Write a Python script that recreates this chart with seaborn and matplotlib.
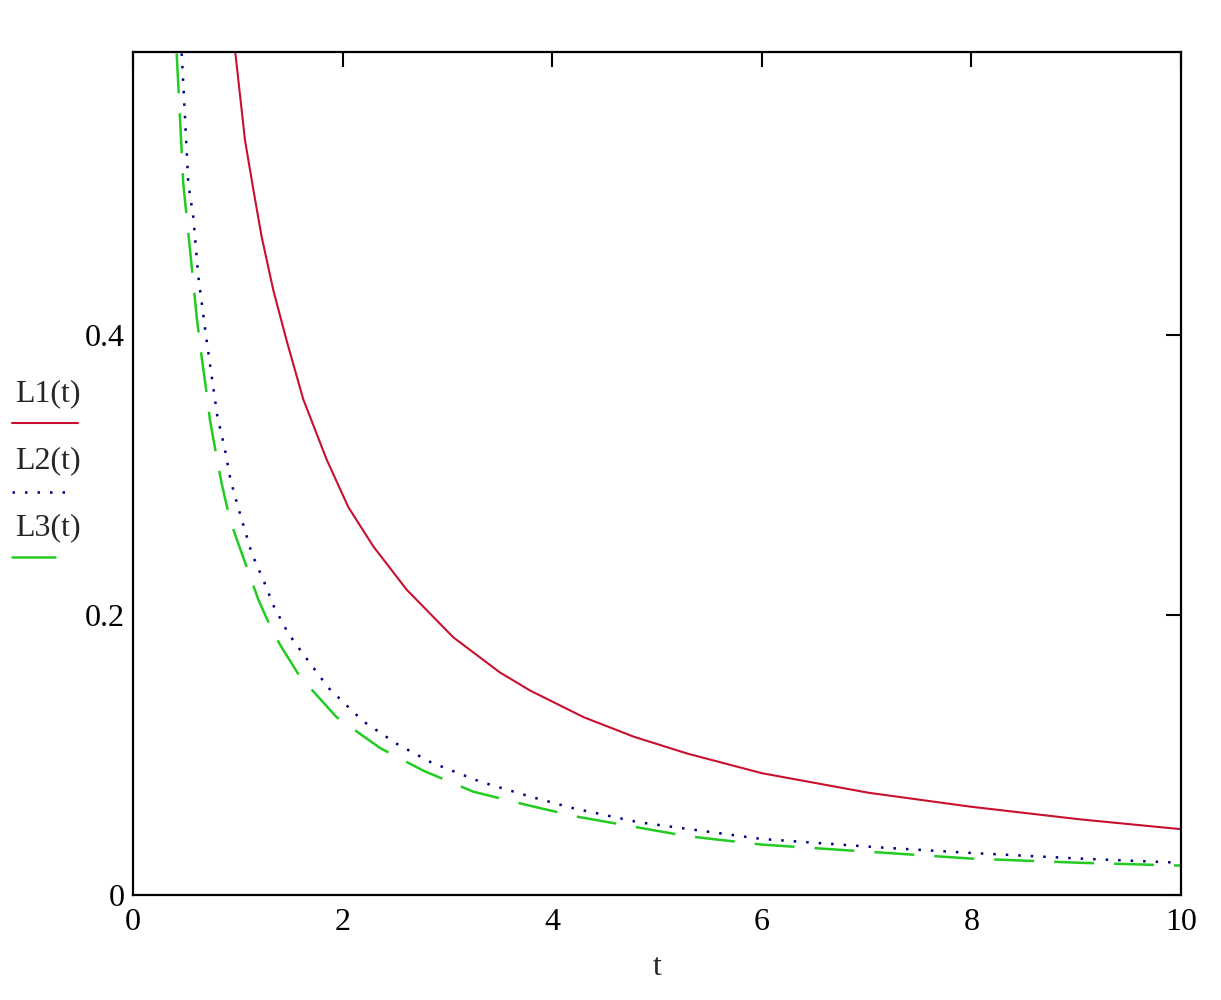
import matplotlib
matplotlib.use("Agg")
import matplotlib.pyplot as plt
from matplotlib.lines import Line2D
import pandas as pd
import seaborn as sns

# values
t1 = [0.973, 1.069, 1.148, 1.228, 1.339, 1.466, 1.625, 1.848, 2.055, 2.293, 2.612,
      3.057, 3.5, 3.79, 4.3, 4.78, 5.29, 6.0, 7.02, 8.0, 9.04, 10.0]
L1 = [0.604, 0.539, 0.504, 0.470, 0.432, 0.396, 0.354, 0.311, 0.277, 0.249, 0.218,
      0.184, 0.159, 0.146, 0.127, 0.113, 0.101, 0.087, 0.073, 0.063, 0.054, 0.047]

t2 = [0.465, 0.496, 0.528, 0.576, 0.623, 0.703, 0.805, 0.878, 0.932, 1.011, 1.133,
      1.244, 1.345, 1.473, 1.546, 1.864, 2.198, 2.516, 2.85, 3.311, 3.804, 4.2,
      4.82, 6.0, 7.12, 8.0, 9.04, 10.0]
L2 = [0.601, 0.556, 0.508, 0.484, 0.442, 0.396, 0.342, 0.318, 0.296, 0.275, 0.244,
      0.225, 0.206, 0.188, 0.180, 0.148, 0.124, 0.108, 0.0945, 0.081, 0.070, 0.062,
      0.052, 0.040, 0.034, 0.030, 0.026, 0.023]

t3 = [0.417, 0.448, 0.48, 0.544, 0.608, 0.654, 0.702, 0.735, 0.798, 0.846, 0.925,
      1.005, 1.110, 1.196, 1.339, 1.434, 1.593, 1.943, 2.357, 2.77, 3.247, 3.756,
      4.233, 5.29, 6.0, 7.0, 8.0, 9.04, 10.0]
L3 = [0.601, 0.556, 0.508, 0.461, 0.413, 0.385, 0.359, 0.339, 0.313, 0.294, 0.268,
      0.251, 0.229, 0.211, 0.187, 0.175, 0.156, 0.127, 0.105, 0.0888, 0.0738, 0.0643,
      0.056, 0.042, 0.036, 0.031, 0.026, 0.023, 0.021]

series_names = ["L1(t)", "L2(t)", "L3(t)"]
x_ticks = [0, 2, 4, 6, 8, 10]
y_ticks = [0, 0.2, 0.4]
y_tick_labels = ["0", "0.2", "0.4"]

RED = "#c8102e"
BLUE = "#000080"
GREEN = "#22cc22"


def main():
    sns.set_style("white")
    plt.rcParams["font.family"] = ["Liberation Serif", "DejaVu Serif"]

    df = pd.concat([
        pd.DataFrame({"t": t1, "value": L1, "series": series_names[0]}),
        pd.DataFrame({"t": t2, "value": L2, "series": series_names[1]}),
        pd.DataFrame({"t": t3, "value": L3, "series": series_names[2]}),
    ])

    fig = plt.figure(figsize=(12.21, 10), dpi=100)
    ax = fig.add_axes([0.1089, 0.105, 0.8583, 0.843])

    styles = {
        "L1(t)": dict(color=RED, lw=1.5, ls="-"),
        "L2(t)": dict(color=BLUE, lw=1.8, ls=(0, (1, 4))),
        "L3(t)": dict(color=GREEN, lw=1.8, ls=(0, (16, 8))),
    }
    for name in series_names:
        sub = df[df["series"] == name]
        sns.lineplot(data=sub, x="t", y="value", ax=ax, sort=False,
                     estimator=None, legend=False, **styles[name])

    ax.set_xlim(0, 10)
    ax.set_ylim(0, 0.602)
    ax.set_xticks(x_ticks)
    ax.set_xticklabels([str(v) for v in x_ticks])
    ax.set_yticks(y_ticks)
    ax.set_yticklabels(y_tick_labels)
    ax.tick_params(direction="in", length=11, width=1.5, labelsize=23,
                   top=True, right=True, pad=6, colors="black")
    ax.tick_params(axis="x", pad=9)
    ax.set_xlabel("t", fontsize=23, labelpad=12)
    ax.set_ylabel("")
    for sp in ax.spines.values():
        sp.set_visible(True)
        sp.set_color("black")
        sp.set_linewidth(1.6)

    # Mathcad style legend on the left
    legend_rows = [(0.606, 0.577, 0.054, "-"),
                   (0.539, 0.508, 0.043, styles["L2(t)"]["ls"]),
                   (0.472, 0.443, 0.035, "-")]
    for name, (ty, ly, lw_len, ls) in zip(series_names, legend_rows):
        st = styles[name]
        fig.text(0.012, ty, name, fontsize=23, ha="left", va="center")
        fig.add_artist(Line2D([0.010, 0.010 + lw_len], [ly, ly],
                              transform=fig.transFigure, color=st["color"],
                              lw=st["lw"], ls=ls))

    fig.savefig("out.png", dpi=100, facecolor="white")
    plt.close(fig)


if __name__ == "__main__":
    main()
